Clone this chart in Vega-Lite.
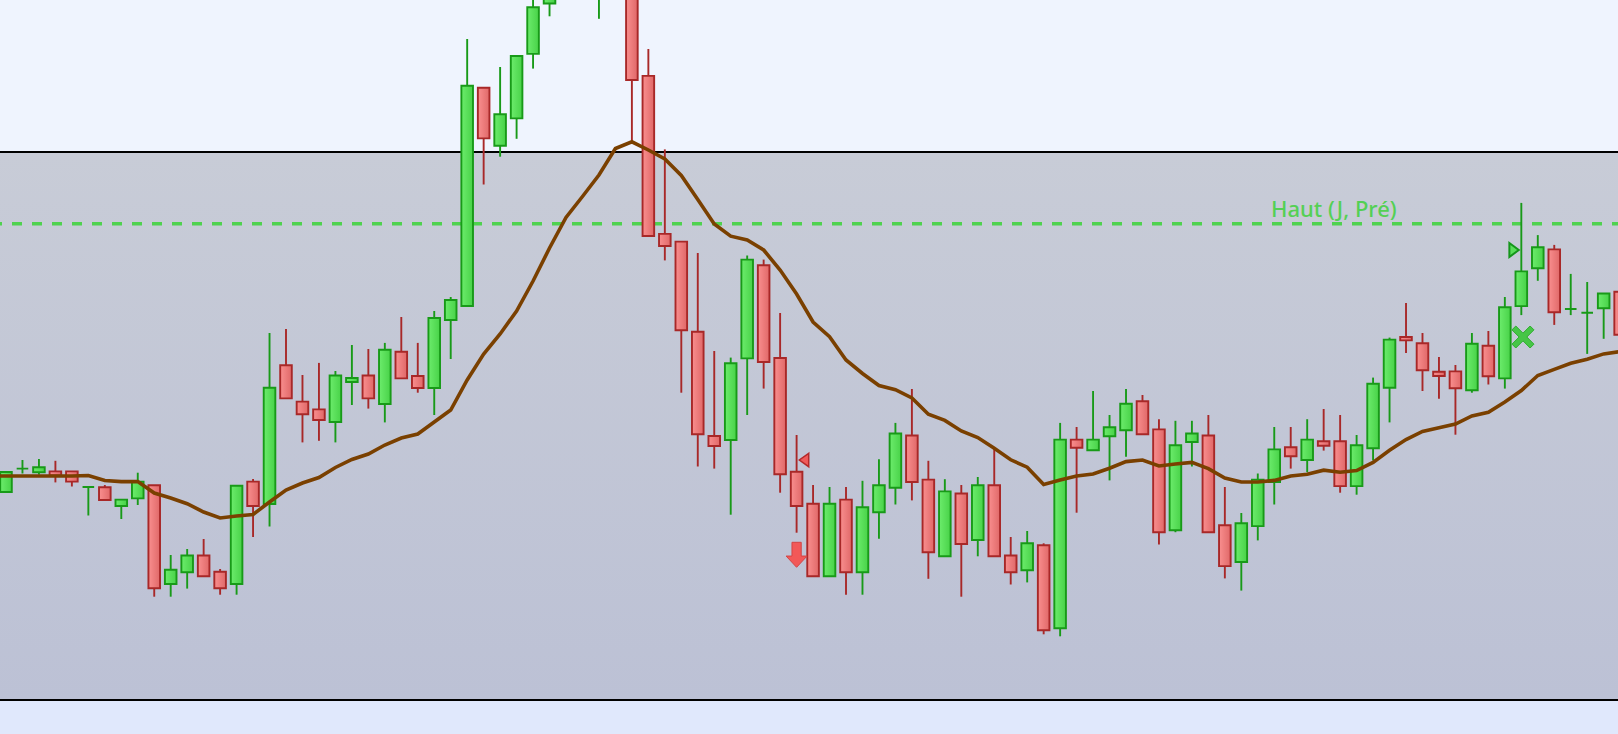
{
  "$schema": "https://vega.github.io/schema/vega-lite/v6.json",
  "width": 1618,
  "height": 734,
  "padding": 0,
  "autosize": {"type": "none"},
  "background": "#eff4fe",
  "config": {"view": {"stroke": null}, "axis": {"disable": true}, "scale": {"continuousPadding": 0}},
  "datasets": {
    "candles": [
      {"t": -1, "o": 250, "h": 262, "l": 245, "c": 258, "ma": 258},
      {"t": 0, "o": 242, "h": 262, "l": 242, "c": 262, "ma": 258},
      {"t": 1, "o": 265.4, "h": 274, "l": 260.5, "c": 265.4, "ma": 258},
      {"t": 2, "o": 261.8, "h": 275, "l": 259.3, "c": 266.7, "ma": 258},
      {"t": 3, "o": 262.6, "h": 273.2, "l": 251.6, "c": 258.5, "ma": 258},
      {"t": 4, "o": 262.6, "h": 262.6, "l": 247.5, "c": 252.4, "ma": 258},
      {"t": 5, "o": 247, "h": 247, "l": 218.5, "c": 247, "ma": 258.5},
      {"t": 6, "o": 246.7, "h": 249, "l": 234, "c": 234, "ma": 253.5},
      {"t": 7, "o": 228, "h": 234.4, "l": 215, "c": 234.4, "ma": 252.4},
      {"t": 8, "o": 235.6, "h": 261.3, "l": 229, "c": 252.4, "ma": 252.4},
      {"t": 9, "o": 248.7, "h": 248.7, "l": 137.3, "c": 145.8, "ma": 241},
      {"t": 10, "o": 150, "h": 179, "l": 137.3, "c": 164.2, "ma": 236},
      {"t": 11, "o": 161.8, "h": 185, "l": 145.4, "c": 178.5, "ma": 230.3},
      {"t": 12, "o": 178.5, "h": 195, "l": 157.7, "c": 157.7, "ma": 222},
      {"t": 13, "o": 162.2, "h": 165, "l": 139.3, "c": 145.8, "ma": 216},
      {"t": 14, "o": 150, "h": 248.3, "l": 139.3, "c": 248.3, "ma": 218},
      {"t": 15, "o": 252.4, "h": 255, "l": 197, "c": 228, "ma": 219.5},
      {"t": 16, "o": 230, "h": 401, "l": 207.5, "c": 346.2, "ma": 232},
      {"t": 17, "o": 368.7, "h": 405, "l": 335.6, "c": 335.6, "ma": 244},
      {"t": 18, "o": 332.4, "h": 359, "l": 291.6, "c": 319.7, "ma": 251},
      {"t": 19, "o": 324.6, "h": 371.1, "l": 293.2, "c": 314, "ma": 256.5},
      {"t": 20, "o": 312, "h": 363, "l": 291.6, "c": 358.5, "ma": 266.5},
      {"t": 21, "o": 352, "h": 389, "l": 329, "c": 356, "ma": 274.5},
      {"t": 22, "o": 358.5, "h": 385, "l": 325.4, "c": 335.6, "ma": 280},
      {"t": 23, "o": 330, "h": 391.1, "l": 311.6, "c": 384.2, "ma": 289},
      {"t": 24, "o": 382.2, "h": 417, "l": 355.6, "c": 355.6, "ma": 296},
      {"t": 25, "o": 358, "h": 391.1, "l": 341.3, "c": 346, "ma": 300},
      {"t": 26, "o": 346, "h": 423, "l": 319, "c": 416, "ma": 312},
      {"t": 27, "o": 414, "h": 437, "l": 375, "c": 434, "ma": 324},
      {"t": 28, "o": 428, "h": 695, "l": 428, "c": 648.3, "ma": 354},
      {"t": 29, "o": 646.2, "h": 646.2, "l": 549.5, "c": 595.6, "ma": 380},
      {"t": 30, "o": 588.3, "h": 667, "l": 577.3, "c": 619.7, "ma": 400},
      {"t": 31, "o": 615.6, "h": 678, "l": 595.2, "c": 678, "ma": 423},
      {"t": 32, "o": 680.1, "h": 746, "l": 665.4, "c": 726.7, "ma": 453},
      {"t": 33, "o": 730.5, "h": 789, "l": 717.7, "c": 774, "ma": 486},
      {"t": 34, "o": 772, "h": 844, "l": 762, "c": 829, "ma": 516.5},
      {"t": 35, "o": 834, "h": 854, "l": 779, "c": 789, "ma": 537.5},
      {"t": 36, "o": 742, "h": 809, "l": 715.2, "c": 794, "ma": 559},
      {"t": 37, "o": 804, "h": 819, "l": 744, "c": 754, "ma": 585.5},
      {"t": 38, "o": 759, "h": 769, "l": 592.4, "c": 654, "ma": 592.2},
      {"t": 39, "o": 658.1, "h": 685, "l": 498, "c": 498, "ma": 584},
      {"t": 40, "o": 500.1, "h": 584.6, "l": 473.6, "c": 488, "ma": 575},
      {"t": 41, "o": 492.4, "h": 492.4, "l": 341.3, "c": 403.8, "ma": 558.5},
      {"t": 42, "o": 402.2, "h": 481, "l": 267.5, "c": 299.7, "ma": 534.5},
      {"t": 43, "o": 298, "h": 383, "l": 265.4, "c": 288, "ma": 510},
      {"t": 44, "o": 294, "h": 376.4, "l": 219.3, "c": 370.7, "ma": 497.8},
      {"t": 45, "o": 375.6, "h": 478.5, "l": 319, "c": 474.4, "ma": 494},
      {"t": 46, "o": 468.7, "h": 474.4, "l": 345.4, "c": 372, "ma": 484},
      {"t": 47, "o": 376, "h": 421, "l": 241.3, "c": 259.7, "ma": 464},
      {"t": 48, "o": 262.2, "h": 299, "l": 201.3, "c": 228, "ma": 440},
      {"t": 49, "o": 230.3, "h": 249, "l": 157.7, "c": 157.7, "ma": 412},
      {"t": 50, "o": 157.7, "h": 247, "l": 157.7, "c": 230.3, "ma": 397.3},
      {"t": 51, "o": 234.4, "h": 247, "l": 139.3, "c": 161.8, "ma": 374},
      {"t": 52, "o": 161.8, "h": 253.2, "l": 139.3, "c": 226.7, "ma": 360.5},
      {"t": 53, "o": 221.8, "h": 274.8, "l": 195.2, "c": 248.7, "ma": 348.5},
      {"t": 54, "o": 246.2, "h": 311.1, "l": 229.5, "c": 300.5, "ma": 344.3},
      {"t": 55, "o": 298.5, "h": 345, "l": 233.6, "c": 252, "ma": 336},
      {"t": 56, "o": 254.4, "h": 273.2, "l": 155.2, "c": 181.8, "ma": 319.8},
      {"t": 57, "o": 177.7, "h": 254.8, "l": 177.7, "c": 242.6, "ma": 313.6},
      {"t": 58, "o": 240.5, "h": 249, "l": 137.3, "c": 190, "ma": 303},
      {"t": 59, "o": 194, "h": 257, "l": 177.7, "c": 248.7, "ma": 296.4},
      {"t": 60, "o": 248.7, "h": 285, "l": 177.7, "c": 177.7, "ma": 285.7},
      {"t": 61, "o": 178.5, "h": 197, "l": 149.5, "c": 161.8, "ma": 274.2},
      {"t": 62, "o": 163.8, "h": 203, "l": 151.6, "c": 190.7, "ma": 266.8},
      {"t": 63, "o": 188.7, "h": 190.7, "l": 99.7, "c": 103.8, "ma": 249.5},
      {"t": 64, "o": 105.8, "h": 311.1, "l": 97.7, "c": 294.4, "ma": 254},
      {"t": 65, "o": 294.4, "h": 307, "l": 221.3, "c": 286.2, "ma": 258},
      {"t": 66, "o": 283.8, "h": 343, "l": 283.8, "c": 294.4, "ma": 260},
      {"t": 67, "o": 297.7, "h": 319, "l": 253.6, "c": 306.7, "ma": 265.8},
      {"t": 68, "o": 303.8, "h": 345, "l": 277.3, "c": 330.3, "ma": 272.4},
      {"t": 69, "o": 332.8, "h": 339, "l": 299.7, "c": 299.7, "ma": 274},
      {"t": 70, "o": 304.6, "h": 314.8, "l": 189.5, "c": 201.8, "ma": 268},
      {"t": 71, "o": 203.8, "h": 313.2, "l": 201.8, "c": 288.7, "ma": 270},
      {"t": 72, "o": 292, "h": 313.2, "l": 267.5, "c": 300.5, "ma": 271.6},
      {"t": 73, "o": 298.5, "h": 319, "l": 201.8, "c": 201.8, "ma": 265.4},
      {"t": 74, "o": 208.7, "h": 247, "l": 155.6, "c": 167.9, "ma": 256},
      {"t": 75, "o": 172, "h": 221, "l": 143.4, "c": 210.7, "ma": 252},
      {"t": 76, "o": 207.9, "h": 260.5, "l": 193.6, "c": 254.4, "ma": 252},
      {"t": 77, "o": 252, "h": 307, "l": 229.5, "c": 284.6, "ma": 253.6},
      {"t": 78, "o": 286.7, "h": 307, "l": 265.4, "c": 277.7, "ma": 258},
      {"t": 79, "o": 274, "h": 314.8, "l": 261.8, "c": 294.4, "ma": 259.7},
      {"t": 80, "o": 292.8, "h": 325, "l": 283.4, "c": 288.3, "ma": 263.8},
      {"t": 81, "o": 292.8, "h": 319, "l": 241.3, "c": 247.9, "ma": 261.8},
      {"t": 82, "o": 247.9, "h": 299, "l": 239.3, "c": 288.7, "ma": 263.4},
      {"t": 83, "o": 285.8, "h": 356.4, "l": 273.6, "c": 350.3, "ma": 271.6},
      {"t": 84, "o": 346.2, "h": 396.4, "l": 311.6, "c": 394.4, "ma": 283.8},
      {"t": 85, "o": 397, "h": 431.1, "l": 381, "c": 393.6, "ma": 294.4},
      {"t": 86, "o": 390.7, "h": 401, "l": 343, "c": 363.8, "ma": 302.6},
      {"t": 87, "o": 362.2, "h": 377, "l": 335.2, "c": 358, "ma": 306.2},
      {"t": 88, "o": 362.6, "h": 369, "l": 299.3, "c": 345.8, "ma": 310},
      {"t": 89, "o": 343.8, "h": 401, "l": 341.3, "c": 390.3, "ma": 318},
      {"t": 90, "o": 388.3, "h": 403, "l": 349.5, "c": 357.7, "ma": 321.8},
      {"t": 91, "o": 355.6, "h": 437, "l": 345.4, "c": 426.7, "ma": 332},
      {"t": 92, "o": 427.9, "h": 531.1, "l": 418.9, "c": 462.6, "ma": 343.4},
      {"t": 93, "o": 465.8, "h": 498.9, "l": 453.2, "c": 486.7, "ma": 358.5},
      {"t": 94, "o": 484.6, "h": 489.1, "l": 409.1, "c": 421.8, "ma": 364.6},
      {"t": 95, "o": 425, "h": 460.1, "l": 418.9, "c": 425, "ma": 370.7},
      {"t": 96, "o": 421.3, "h": 452, "l": 380.1, "c": 421.3, "ma": 374.8},
      {"t": 97, "o": 425.8, "h": 440.5, "l": 395.2, "c": 440.5, "ma": 380.1},
      {"t": 98, "o": 442.2, "h": 442.2, "l": 394, "c": 399.3, "ma": 382.5}
    ],
    "zones": [
      {"zone": "below", "lo": 0, "hi": 34},
      {"zone": "band", "lo": 34, "hi": 582}
    ],
    "levels": [{"name": "Haut (J, Pré)", "v": 510.3}],
    "signals": [
      {"t": 48.45, "v": 274, "sig": "sell_mark"},
      {"t": 48.0, "v": 179.2, "sig": "sell_arrow"},
      {"t": 91.56, "v": 484, "sig": "buy_mark"},
      {"t": 92.1, "v": 397, "sig": "buy_x"}
    ]
  },
  "layer": [
    {
      "data": {"name": "zones"},
      "transform": [{"filter": "datum.zone == 'below'"}],
      "mark": {"type": "rect", "fill": "#e0e8fc"},
      "encoding": {
        "y": {"field": "lo", "type": "quantitative", "scale": {"domain": [0, 734], "nice": false, "zero": false, "padding": 0}, "axis": null},
        "y2": {"field": "hi"}
      }
    },
    {
      "data": {"name": "zones"},
      "transform": [{"filter": "datum.zone == 'band'"}],
      "mark": {
        "type": "rect",
        "fill": {"gradient": "linear", "x1": 0, "y1": 0, "x2": 0, "y2": 1,
          "stops": [{"offset": 0, "color": "#c8ccd7"}, {"offset": 1, "color": "#bcc1d5"}]}
      },
      "encoding": {
        "y": {"field": "lo", "type": "quantitative", "scale": {"domain": [0, 734], "nice": false, "zero": false, "padding": 0}, "axis": null},
        "y2": {"field": "hi"}
      }
    },
    {
      "data": {"name": "zones"},
      "transform": [{"filter": "datum.zone == 'band'"}],
      "mark": {"type": "rule", "color": "#000000", "strokeWidth": 2},
      "encoding": {
        "y": {"field": "hi", "type": "quantitative", "scale": {"domain": [0, 734], "nice": false, "zero": false, "padding": 0}, "axis": null}
      }
    },
    {
      "data": {"name": "zones"},
      "transform": [{"filter": "datum.zone == 'band'"}],
      "mark": {"type": "rule", "color": "#000000", "strokeWidth": 2},
      "encoding": {
        "y": {"field": "lo", "type": "quantitative", "scale": {"domain": [0, 734], "nice": false, "zero": false, "padding": 0}, "axis": null}
      }
    },
    {
      "data": {"name": "levels"},
      "mark": {"type": "rule", "color": "#4fd24f", "strokeWidth": 3.4, "strokeDash": [10, 10], "strokeDashOffset": 4},
      "encoding": {
        "y": {"field": "v", "type": "quantitative", "scale": {"domain": [0, 734], "nice": false, "zero": false, "padding": 0}, "axis": null}
      }
    },
    {
      "data": {"name": "levels"},
      "mark": {"type": "text", "align": "left", "baseline": "alphabetic", "dy": -7, "font": "Noto Sans", "fontSize": 22, "fontWeight": 500, "color": "#54d054"},
      "encoding": {
        "x": {"datum": 76.8, "type": "quantitative", "scale": {"domain": [-0.364, 97.87], "nice": false, "zero": false, "padding": 0}, "axis": null},
        "y": {"field": "v", "type": "quantitative", "scale": {"domain": [0, 734], "nice": false, "zero": false, "padding": 0}, "axis": null},
        "text": {"field": "name"}
      }
    },
    {
      "data": {"name": "candles"},
      "mark": {"type": "rule", "strokeWidth": 1.9, "clip": true},
      "encoding": {
        "x": {"field": "t", "type": "quantitative", "scale": {"domain": [-0.364, 97.87], "nice": false, "zero": false, "padding": 0}, "axis": null},
        "y": {"field": "l", "type": "quantitative", "scale": {"domain": [0, 734], "nice": false, "zero": false, "padding": 0}, "axis": null},
        "y2": {"field": "h"},
        "color": {"condition": {"test": "datum.c >= datum.o", "value": "#189a18"}, "value": "#a82828"}
      }
    },
    {
      "data": {"name": "candles"},
      "transform": [{"filter": "datum.c >= datum.o"}],
      "mark": {
        "type": "bar", "width": 11.6, "clip": true, "stroke": "#189a18", "strokeWidth": 1.9,
        "fill": {"gradient": "linear", "x1": 0, "y1": 0, "x2": 1, "y2": 0,
          "stops": [{"offset": 0, "color": "#6cec6c"}, {"offset": 1, "color": "#48d248"}]}
      },
      "encoding": {
        "x": {"field": "t", "type": "quantitative", "scale": {"domain": [-0.364, 97.87], "nice": false, "zero": false, "padding": 0}, "axis": null},
        "y": {"field": "o", "type": "quantitative", "scale": {"domain": [0, 734], "nice": false, "zero": false, "padding": 0}, "axis": null},
        "y2": {"field": "c"}
      }
    },
    {
      "data": {"name": "candles"},
      "transform": [{"filter": "datum.c < datum.o"}],
      "mark": {
        "type": "bar", "width": 11.6, "clip": true, "stroke": "#a82828", "strokeWidth": 1.9,
        "fill": {"gradient": "linear", "x1": 0, "y1": 0, "x2": 1, "y2": 0,
          "stops": [{"offset": 0, "color": "#f98f8f"}, {"offset": 1, "color": "#e06868"}]}
      },
      "encoding": {
        "x": {"field": "t", "type": "quantitative", "scale": {"domain": [-0.364, 97.87], "nice": false, "zero": false, "padding": 0}, "axis": null},
        "y": {"field": "o", "type": "quantitative", "scale": {"domain": [0, 734], "nice": false, "zero": false, "padding": 0}, "axis": null},
        "y2": {"field": "c"}
      }
    },
    {
      "data": {"name": "candles"},
      "mark": {"type": "line", "color": "#7a4000", "strokeWidth": 3.6, "clip": true},
      "encoding": {
        "x": {"field": "t", "type": "quantitative", "scale": {"domain": [-0.364, 97.87], "nice": false, "zero": false, "padding": 0}, "axis": null},
        "y": {"field": "ma", "type": "quantitative", "scale": {"domain": [0, 734], "nice": false, "zero": false, "padding": 0}, "axis": null}
      }
    },
    {
      "data": {"name": "signals"},
      "transform": [{"filter": "datum.sig == 'sell_mark'"}],
      "mark": {"type": "point", "filled": true, "shape": "M0.7,-1L-0.7,0L0.7,1Z", "size": 180, "fill": "#f05a5a", "stroke": "#b52a2a", "strokeWidth": 1.5, "opacity": 1},
      "encoding": {
        "x": {"field": "t", "type": "quantitative", "scale": {"domain": [-0.364, 97.87], "nice": false, "zero": false, "padding": 0}, "axis": null},
        "y": {"field": "v", "type": "quantitative", "scale": {"domain": [0, 734], "nice": false, "zero": false, "padding": 0}, "axis": null}
      }
    },
    {
      "data": {"name": "signals"},
      "transform": [{"filter": "datum.sig == 'sell_arrow'"}],
      "mark": {"type": "point", "filled": true, "shape": "M-0.37,-1L0.37,-1L0.37,0.1L0.84,0.1L0,1L-0.84,0.1L-0.37,0.1Z", "size": 625, "fill": "#f25858", "stroke": "#d44444", "strokeWidth": 1, "opacity": 1},
      "encoding": {
        "x": {"field": "t", "type": "quantitative", "scale": {"domain": [-0.364, 97.87], "nice": false, "zero": false, "padding": 0}, "axis": null},
        "y": {"field": "v", "type": "quantitative", "scale": {"domain": [0, 734], "nice": false, "zero": false, "padding": 0}, "axis": null}
      }
    },
    {
      "data": {"name": "signals"},
      "transform": [{"filter": "datum.sig == 'buy_mark'"}],
      "mark": {"type": "point", "filled": true, "shape": "M-0.67,-1L0.67,0L-0.67,1Z", "size": 196, "fill": "#5ade5a", "stroke": "#14961a", "strokeWidth": 2, "opacity": 1},
      "encoding": {
        "x": {"field": "t", "type": "quantitative", "scale": {"domain": [-0.364, 97.87], "nice": false, "zero": false, "padding": 0}, "axis": null},
        "y": {"field": "v", "type": "quantitative", "scale": {"domain": [0, 734], "nice": false, "zero": false, "padding": 0}, "axis": null}
      }
    },
    {
      "data": {"name": "signals"},
      "transform": [{"filter": "datum.sig == 'buy_x'"}],
      "mark": {"type": "point", "filled": true, "shape": "M0,-0.35L0.65,-1L1,-0.65L0.35,0L1,0.65L0.65,1L0,0.35L-0.65,1L-1,0.65L-0.35,0L-1,-0.65L-0.65,-1Z", "size": 484, "fill": "#46c646", "stroke": "#2fae2f", "strokeWidth": 1, "opacity": 1},
      "encoding": {
        "x": {"field": "t", "type": "quantitative", "scale": {"domain": [-0.364, 97.87], "nice": false, "zero": false, "padding": 0}, "axis": null},
        "y": {"field": "v", "type": "quantitative", "scale": {"domain": [0, 734], "nice": false, "zero": false, "padding": 0}, "axis": null}
      }
    }
  ]
}
